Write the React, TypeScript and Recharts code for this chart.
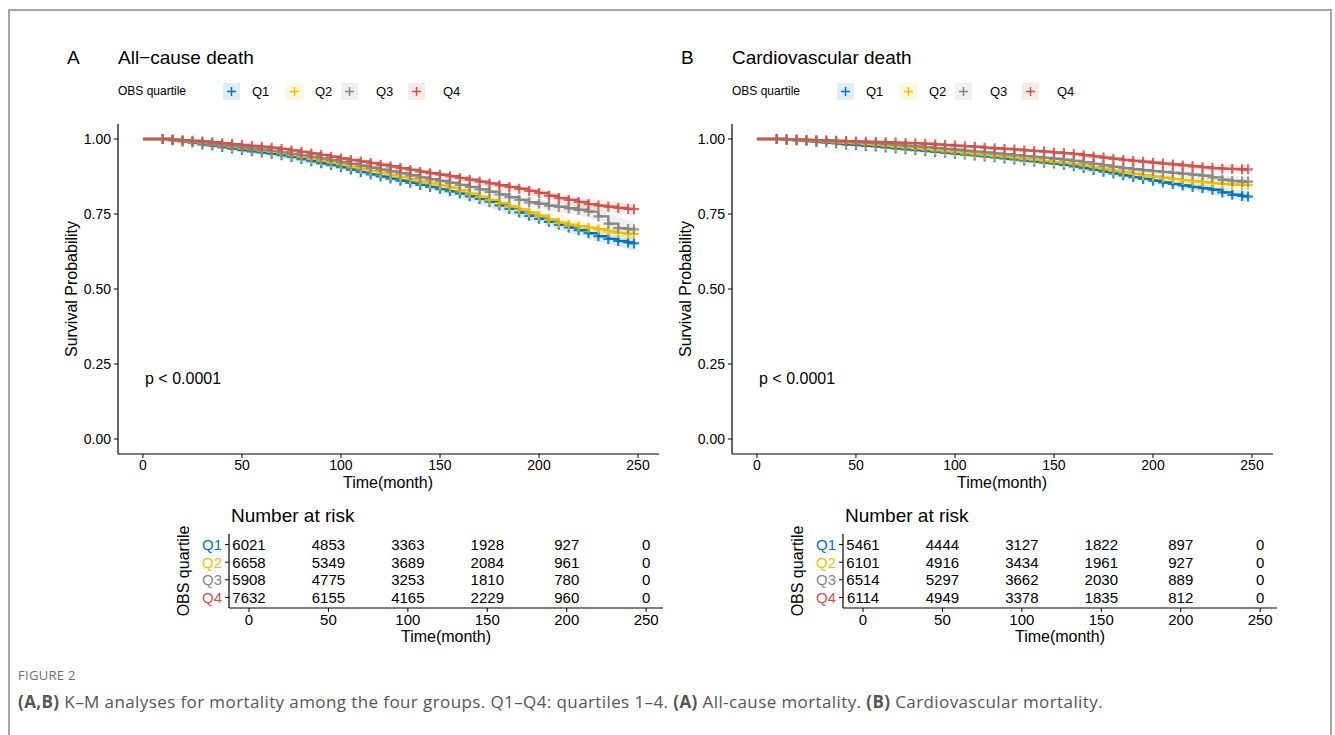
import React from "react";
import { ComposedChart, Line, Area, XAxis, YAxis, Scatter } from "recharts";

const groups = ["Q1", "Q2", "Q3", "Q4"];
const colors = ["#0073C2", "#EFC000", "#868686", "#CD534C"];

// follow-up times (months) of the step points
const times = [
  0, 10, 15, 20, 25, 30, 35, 40, 45, 50,
  55, 60, 65, 70, 75, 80, 85, 90, 95, 100,
  105, 110, 115, 120, 125, 130, 135, 140, 145, 150,
  155, 160, 165, 170, 175, 180, 185, 190, 195, 200,
  205, 210, 215, 220, 225, 230, 235, 240, 245, 248,
];

// A: all-cause death, survival probability
const allQ1 = [
  1.0, 1.0, 0.996, 0.992, 0.988, 0.982, 0.978, 0.973, 0.968, 0.963,
  0.959, 0.955, 0.951, 0.946, 0.94, 0.933, 0.926, 0.919, 0.913, 0.906,
  0.898, 0.89, 0.882, 0.875, 0.868, 0.861, 0.854, 0.847, 0.84, 0.833,
  0.826, 0.818, 0.809, 0.8, 0.791, 0.779, 0.767, 0.755, 0.744, 0.734,
  0.724, 0.714, 0.705, 0.696, 0.686, 0.676, 0.667, 0.66, 0.655, 0.652,
];
const allQ2 = [
  1.0, 1.0, 0.997, 0.993, 0.99, 0.986, 0.982, 0.978, 0.973, 0.969,
  0.965, 0.961, 0.957, 0.952, 0.946, 0.94, 0.934, 0.928, 0.921, 0.915,
  0.908, 0.901, 0.894, 0.887, 0.88, 0.873, 0.866, 0.859, 0.852, 0.845,
  0.838, 0.829, 0.818, 0.808, 0.797, 0.786, 0.776, 0.765, 0.755, 0.744,
  0.732, 0.721, 0.714, 0.709, 0.704, 0.699, 0.692, 0.687, 0.684, 0.683,
];
const allQ3 = [
  1.0, 1.0, 0.997, 0.994, 0.991, 0.988, 0.984, 0.98, 0.976, 0.972,
  0.968, 0.964, 0.96, 0.955, 0.95, 0.945, 0.94, 0.935, 0.929, 0.923,
  0.917, 0.911, 0.904, 0.898, 0.892, 0.886, 0.879, 0.872, 0.866, 0.86,
  0.854, 0.847, 0.84, 0.832, 0.824, 0.815, 0.806, 0.797, 0.789, 0.784,
  0.778, 0.774, 0.769, 0.764, 0.758, 0.742, 0.718, 0.703, 0.7, 0.699,
];
const allQ4 = [
  1.0, 1.0, 0.998, 0.996, 0.994, 0.992, 0.989, 0.986, 0.983, 0.98,
  0.977, 0.974, 0.971, 0.967, 0.962, 0.957, 0.952, 0.947, 0.941, 0.935,
  0.93, 0.925, 0.92, 0.914, 0.909, 0.903, 0.897, 0.891, 0.886, 0.881,
  0.876, 0.87, 0.864, 0.858, 0.852, 0.846, 0.84, 0.834, 0.827, 0.82,
  0.811, 0.803, 0.797, 0.79, 0.783, 0.778, 0.774, 0.77, 0.767, 0.766,
];

// B: cardiovascular death, survival probability
const cvQ1 = [
  1.0, 1.0, 0.997, 0.995, 0.993, 0.99, 0.988, 0.985, 0.982, 0.98,
  0.977, 0.975, 0.972, 0.969, 0.966, 0.963, 0.96, 0.957, 0.954, 0.951,
  0.948, 0.945, 0.942, 0.939, 0.935, 0.932, 0.928, 0.925, 0.921, 0.918,
  0.914, 0.909, 0.903, 0.897, 0.891, 0.885, 0.879, 0.873, 0.867, 0.861,
  0.855, 0.85, 0.845, 0.84, 0.836, 0.831, 0.822, 0.814, 0.81, 0.808,
];
const cvQ2 = [
  1.0, 1.0, 0.998, 0.996, 0.995, 0.993, 0.991, 0.989, 0.987, 0.985,
  0.982, 0.98, 0.977, 0.974, 0.971, 0.968, 0.965, 0.962, 0.959, 0.956,
  0.952, 0.949, 0.946, 0.943, 0.94, 0.936, 0.933, 0.93, 0.926, 0.923,
  0.92, 0.916, 0.911, 0.906, 0.9, 0.894, 0.889, 0.884, 0.879, 0.875,
  0.871, 0.867, 0.863, 0.859, 0.856, 0.853, 0.85, 0.848, 0.847, 0.847,
];
const cvQ3 = [
  1.0, 1.0, 0.999, 0.998, 0.997, 0.995, 0.994, 0.992, 0.991, 0.989,
  0.987, 0.985, 0.983, 0.98, 0.978, 0.975, 0.973, 0.97, 0.967, 0.964,
  0.961, 0.958, 0.955, 0.952, 0.949, 0.946, 0.943, 0.94, 0.937, 0.934,
  0.931, 0.927, 0.922, 0.917, 0.912, 0.907, 0.903, 0.899, 0.896, 0.893,
  0.89, 0.887, 0.884, 0.881, 0.878, 0.872, 0.864, 0.86, 0.858, 0.858,
];
const cvQ4 = [
  1.0, 1.0, 0.999, 0.998, 0.997, 0.996, 0.995, 0.994, 0.993, 0.992,
  0.991, 0.99, 0.989, 0.988, 0.987, 0.986, 0.984, 0.982, 0.98, 0.978,
  0.976, 0.974, 0.971, 0.969, 0.967, 0.965, 0.962, 0.96, 0.958, 0.955,
  0.953, 0.95, 0.946, 0.942, 0.938, 0.934, 0.93, 0.927, 0.924, 0.921,
  0.918, 0.915, 0.912, 0.909, 0.906, 0.903, 0.901, 0.9, 0.899, 0.899,
];

// confidence bands, read at a few times
const ciTimes = [0, 50, 100, 150, 200, 225, 248];
const allLo = [
  [1, 0.957, 0.898, 0.823, 0.719, 0.667, 0.628],
  [1, 0.963, 0.907, 0.835, 0.729, 0.685, 0.66],
  [1, 0.966, 0.915, 0.85, 0.769, 0.738, 0.676],
  [1, 0.975, 0.928, 0.872, 0.806, 0.765, 0.745],
];
const allHi = [
  [1, 0.969, 0.914, 0.843, 0.749, 0.705, 0.676],
  [1, 0.975, 0.923, 0.855, 0.759, 0.723, 0.706],
  [1, 0.978, 0.931, 0.87, 0.799, 0.778, 0.722],
  [1, 0.985, 0.942, 0.89, 0.834, 0.801, 0.787],
];
const cvLo = [
  [1, 0.976, 0.945, 0.91, 0.852, 0.823, 0.79],
  [1, 0.981, 0.95, 0.915, 0.866, 0.845, 0.832],
  [1, 0.985, 0.958, 0.926, 0.884, 0.866, 0.843],
  [1, 0.988, 0.972, 0.948, 0.912, 0.894, 0.885],
];
const cvHi = [
  [1, 0.984, 0.957, 0.926, 0.87, 0.849, 0.826],
  [1, 0.989, 0.962, 0.931, 0.884, 0.867, 0.862],
  [1, 0.993, 0.97, 0.942, 0.902, 0.89, 0.873],
  [1, 0.996, 0.984, 0.962, 0.93, 0.918, 0.913],
];

// number at risk
const riskTimes = [0, 50, 100, 150, 200, 250];
const allRisk = [
  [6021, 4853, 3363, 1928, 927, 0],
  [6658, 5349, 3689, 2084, 961, 0],
  [5908, 4775, 3253, 1810, 780, 0],
  [7632, 6155, 4165, 2229, 960, 0],
];
const cvRisk = [
  [5461, 4444, 3127, 1822, 897, 0],
  [6101, 4916, 3434, 1961, 927, 0],
  [6514, 5297, 3662, 2030, 889, 0],
  [6114, 4949, 3378, 1835, 812, 0],
];

const xTicks = [0, 50, 100, 150, 200, 250];
const yTicks = [0, 0.25, 0.5, 0.75, 1];
const X_DOMAIN: [number, number] = [-12.6, 260.6];

const FONT = '"Liberation Sans", Arial, Helvetica, sans-serif';

const plusDot = (color: string) => (p: any) => {
  const { cx, cy, index } = p;
  if (index === 0 || cx == null || cy == null) return <g key={`d${index}`} />;
  return (
    <path
      key={`d${index}`}
      d={`M${cx - 5},${cy}h10M${cx},${cy - 5}v10`}
      stroke={color}
      strokeWidth={2.2}
      strokeOpacity={0.85}
      fill="none"
    />
  );
};

const abs = (left: number, top: number, extra: React.CSSProperties = {}): React.CSSProperties => ({
  position: "absolute",
  left,
  top,
  whiteSpace: "nowrap",
  fontFamily: FONT,
  color: "#000",
  ...extra,
});

const keyCenters = [231, 294, 349, 416];
const keyLabels = [252, 315, 376, 443];

function Panel({ dx, letter, title, curves, lo, hi, risk }: any) {
  const axisLine = { stroke: "#000", strokeWidth: 1.2 };
  const riskRows = risk.flatMap((vals: number[], g: number) =>
    vals.map((n, i) => ({ t: riskTimes[i], row: g + 1, n }))
  );
  return (
    <>
      <div style={abs(dx + 67, 47, { fontSize: 19 })}>{letter}</div>
      <div style={abs(dx + 118, 47, { fontSize: 19 })}>{title}</div>
      <div style={abs(dx + 118, 84, { fontSize: 12 })}>OBS quartile</div>
      {groups.map((g, i) => (
        <React.Fragment key={g}>
          <svg
            width={17}
            height={17}
            style={{ position: "absolute", left: dx + keyCenters[i] - 8.5, top: 82.5 }}
          >
            <rect width={17} height={17} fill={colors[i]} fillOpacity={0.13} />
            <path d="M4,8.5h9M8.5,4v9" stroke={colors[i]} strokeWidth={1.5} />
          </svg>
          <div style={abs(dx + keyLabels[i], 84, { fontSize: 13 })}>{g}</div>
        </React.Fragment>
      ))}

      <div style={{ position: "absolute", left: dx, top: 0 }}>
        <ComposedChart
          width={680}
          height={500}
          margin={{ top: 124, right: 21, bottom: 16, left: 78 }}
          style={{ fontFamily: FONT }}
        >
          <XAxis
            dataKey="t"
            type="number"
            domain={X_DOMAIN}
            ticks={xTicks}
            interval={0}
            allowDataOverflow
            height={30}
            tickSize={4}
            tickMargin={2}
            axisLine={axisLine}
            tickLine={{ stroke: "#000" }}
            tick={{ fontSize: 14, fill: "#000" }}
          />
          <YAxis
            type="number"
            domain={[-0.05, 1.05]}
            ticks={yTicks}
            interval={0}
            allowDataOverflow
            width={40}
            tickSize={4}
            tickMargin={3}
            axisLine={axisLine}
            tickLine={{ stroke: "#000" }}
            tick={{ fontSize: 14, fill: "#000" }}
            tickFormatter={(v: number) => v.toFixed(2)}
          />
          {groups.map((g, i) => (
            <Area
              key={`ci${g}`}
              data={ciTimes.map((t, k) => ({ t, band: [lo[i][k], hi[i][k]] }))}
              dataKey="band"
              type="linear"
              stroke="none"
              fill={colors[i]}
              fillOpacity={0.13}
              isAnimationActive={false}
              activeDot={false}
            />
          ))}
          {groups.map((g, i) => (
            <Line
              key={`l${g}`}
              data={times.map((t, k) => ({ t, s: curves[i][k] }))}
              dataKey="s"
              type="stepAfter"
              stroke={colors[i]}
              strokeWidth={2.4}
              dot={plusDot(colors[i])}
              activeDot={false}
              isAnimationActive={false}
            />
          ))}
        </ComposedChart>
      </div>

      <div style={abs(dx + 72, 289, { fontSize: 16, transform: "translate(-50%,-50%) rotate(-90deg)" })}>
        Survival Probability
      </div>
      <div style={abs(dx + 388, 483, { fontSize: 16, transform: "translate(-50%,-50%)" })}>Time(month)</div>
      <div style={abs(dx + 145, 370, { fontSize: 16 })}>p &lt; 0.0001</div>

      <div style={abs(dx + 231, 505, { fontSize: 19 })}>Number at risk</div>
      <div style={{ position: "absolute", left: dx, top: 0 }}>
        <ComposedChart
          width={680}
          height={650}
          margin={{ top: 534, right: 17, bottom: 17, left: 199 }}
          style={{ fontFamily: FONT }}
        >
          <XAxis
            dataKey="t"
            type="number"
            domain={X_DOMAIN}
            ticks={xTicks}
            interval={0}
            allowDataOverflow
            height={25}
            tickSize={4}
            tickMargin={2}
            axisLine={axisLine}
            tickLine={{ stroke: "#000" }}
            tick={{ fontSize: 15, fill: "#000" }}
          />
          <YAxis
            dataKey="row"
            type="number"
            domain={[0.4, 4.6]}
            ticks={[1, 2, 3, 4]}
            interval={0}
            reversed
            allowDataOverflow
            width={30}
            tickSize={4}
            tickMargin={3}
            axisLine={axisLine}
            tickLine={{ stroke: "#000" }}
            tick={(p: any) => (
              <text
                key={`yt${p.index}`}
                x={p.x}
                y={p.y}
                dy="0.355em"
                textAnchor="end"
                fontSize={15}
                fill={colors[p.payload.value - 1]}
              >
                {groups[p.payload.value - 1]}
              </text>
            )}
          />
          <Scatter
            data={riskRows}
            dataKey="row"
            isAnimationActive={false}
            shape={(p: any) => (
              <text x={p.cx} y={p.cy} dy="0.355em" textAnchor="middle" fontSize={15} fill="#000">
                {p.payload.n}
              </text>
            )}
          />
        </ComposedChart>
      </div>
      <div style={abs(dx + 184, 571, { fontSize: 16, transform: "translate(-50%,-50%) rotate(-90deg)" })}>
        OBS quartile
      </div>
      <div style={abs(dx + 446, 637, { fontSize: 16, transform: "translate(-50%,-50%)" })}>Time(month)</div>
    </>
  );
}

export default function App() {
  return (
    <div
      style={{
        position: "absolute",
        left: 0,
        top: 0,
        width: 1335,
        height: 735,
        background: "#fff",
        overflow: "hidden",
      }}
    >
      <div
        style={{
          position: "absolute",
          left: 8,
          top: 9,
          width: 1320,
          height: 760,
          border: "2px solid #a3a3a3",
        }}
      />
      <Panel dx={0} letter="A" title="All−cause death" curves={[allQ1, allQ2, allQ3, allQ4]} lo={allLo} hi={allHi} risk={allRisk} />
      <Panel dx={614} letter="B" title="Cardiovascular death" curves={[cvQ1, cvQ2, cvQ3, cvQ4]} lo={cvLo} hi={cvHi} risk={cvRisk} />
      <div
        style={{
          position: "absolute",
          left: 18,
          top: 666,
          fontFamily: '"Open Sans", "Noto Sans", sans-serif',
          fontSize: 13,
          color: "#6e6e6e",
          letterSpacing: 0.3,
        }}
      >
        FIGURE 2
      </div>
      <div
        style={{
          position: "absolute",
          left: 18,
          top: 690,
          fontFamily: '"Open Sans", "Noto Sans", sans-serif',
          fontSize: 17,
          letterSpacing: 0.4,
          color: "#555",
          whiteSpace: "nowrap",
        }}
      >
        <b>(A,B)</b> K–M analyses for mortality among the four groups. Q1–Q4: quartiles 1–4. <b>(A)</b> All-cause
        mortality. <b>(B)</b> Cardiovascular mortality.
      </div>
    </div>
  );
}
